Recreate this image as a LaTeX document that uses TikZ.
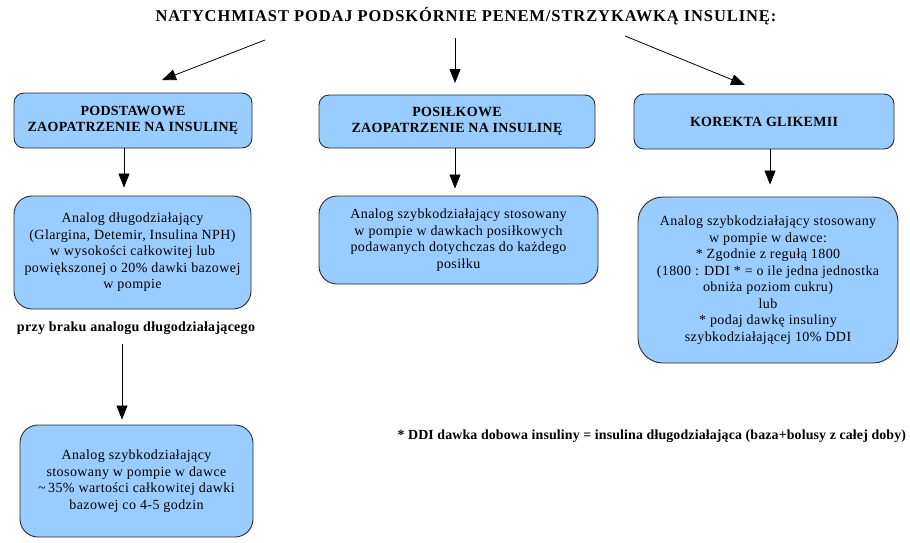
\documentclass[tikz,border=0pt]{standalone}
\usepackage{fontspec}
\setmainfont{Liberation Serif}
\newfontfamily\bodyfont{Liberation Serif}[LetterSpace=3]
\newfontfamily\headfont{Liberation Serif}[LetterSpace=2]
\newfontfamily\titlefont{Liberation Serif}[LetterSpace=5.5]
\newfontfamily\notefont{Liberation Serif}[LetterSpace=1]
\usetikzlibrary{arrows.meta}
\definecolor{boxblue}{HTML}{99CCFF}
\definecolor{boxline}{HTML}{2A2A2A}
\tikzset{
  box/.style={draw=boxline, line width=0.9pt, fill=boxblue, rounded corners=#1, align=center, inner sep=2pt},
  box/.default=10pt,
  head/.style={font=\headfont\fontsize{14}{16}\selectfont\bfseries},
  body/.style={font=\bodyfont\fontsize{14}{16.5}\selectfont},
  arr/.style={line width=0.8pt, -{Triangle[length=14pt,width=11pt]}},
}
\begin{document}
\begin{tikzpicture}[x=1pt,y=-1pt]
\useasboundingbox (0,0) rectangle (910,542);
\node[font=\titlefont\fontsize{16.5}{18}\selectfont\bfseries] (title) at (466,16) {NATYCHMIAST PODAJ PODSKÓRNIE PENEM/STRZYKAWKĄ INSULINĘ:};
\node[box, head, minimum width=238pt, minimum height=55pt] (b1) at (133,120.5) {PODSTAWOWE\\ZAOPATRZENIE NA INSULINĘ};
\node[box, head, minimum width=276pt, minimum height=53pt] (b2) at (457,121.5) {POSIŁKOWE\\ZAOPATRZENIE NA INSULINĘ};
\node[box, head, minimum width=260pt, minimum height=55pt] (b3) at (764,121.5) {KOREKTA GLIKEMII};
\node[box=18pt, body, minimum width=237pt, minimum height=113pt] (l2) at (132.5,252.5) {Analog długodziałający\\(Glargina, Detemir, Insulina NPH)\\w wysokości całkowitej lub\\powiększonej o 20\% dawki bazowej\\w pompie};
\node[box=18pt, body, minimum width=279pt, minimum height=88pt] (m2) at (458.5,240) {Analog szybkodziałający stosowany\\w pompie w dawkach posiłkowych\\podawanych dotychczas do każdego\\posiłku};
\node[box=25pt, body, minimum width=260pt, minimum height=166pt] (r2) at (768,280) {Analog szybkodziałający stosowany\\w pompie w dawce:\\* Zgodnie z regułą 1800\\(1800 : DDI * = o ile jedna jednostka\\obniża poziom cukru)\\lub\\* podaj dawkę insuliny\\szybkodziałającej 10\% DDI};
\node[font=\headfont\fontsize{14}{16}\selectfont\bfseries] (brak) at (136,328) {przy braku analogu długodziałającego};
\node[box=18pt, body, minimum width=233pt, minimum height=112pt] (l3) at (136.5,481) {Analog szybkodziałający\\stosowany w pompie w dawce\\\textasciitilde\,35\% wartości całkowitej dawki\\bazowej co 4-5 godzin};
\node[font=\notefont\fontsize{13.9}{15}\selectfont\bfseries, anchor=west] (ddi) at (394,436) {* DDI dawka dobowa insuliny = insulina długodziałająca (baza+bolusy z całej doby)};
\coordinate (t1) at (265,40);
\coordinate (e1) at (162,80);
\coordinate (t2) at (455,38);
\coordinate (e2) at (455,83);
\coordinate (t3) at (625,36);
\coordinate (e3) at (745,85);
\draw[arr] (t1) -- (e1);
\draw[arr] (t2) -- (e2);
\draw[arr] (t3) -- (e3);
\draw[arr, shorten >=8pt] ([xshift=-9pt]b1.south) -- ([xshift=-8.5pt]l2.north);
\draw[arr, shorten >=7pt] ([xshift=-2pt]b2.south) -- ([xshift=-3.5pt]m2.north);
\draw[arr, shorten >=12pt] ([xshift=6pt]b3.south) -- ([xshift=2pt]r2.north);
\draw[arr, shorten <=6pt, shorten >=5pt] ([xshift=-14pt]brak.south) -- ([xshift=-14.5pt]l3.north);
\end{tikzpicture}
\end{document}
